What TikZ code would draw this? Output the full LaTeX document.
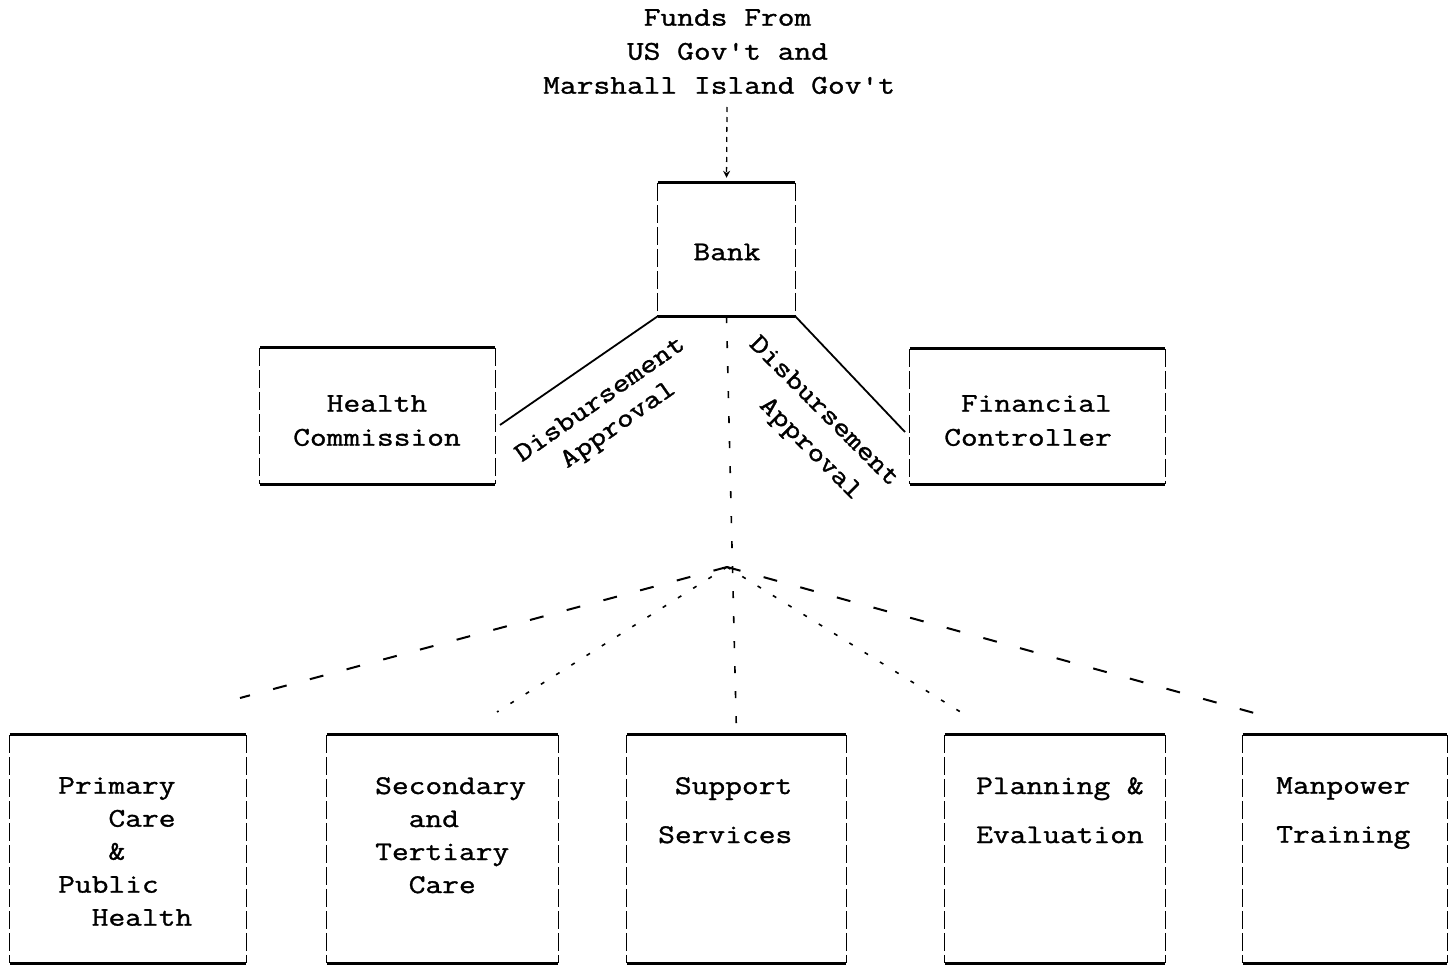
\documentclass[tikz,border=0pt]{standalone}
\usepackage{fontspec}
\newfontfamily\tw[FakeStretch=1.205,FakeBold=1.2]{Latin Modern Mono}
\usetikzlibrary{arrows.meta}
\begin{document}
\begin{tikzpicture}[x=1pt,y=-1pt,
  every node/.style={font=\tw\fontsize{27pt}{33pt}\selectfont, inner sep=0pt},
  txt/.style={anchor=north west, align=left},
  box/.style={inner sep=0pt},
  edge/.style={line width=2.8pt},
  side/.style={line width=1.2pt, dash pattern=on 18pt off 4pt},
  conn/.style={line width=1.8pt},
  vdash/.style={line width=1.6pt, dash pattern=on 7pt off 18pt},
  longdash/.style={line width=2pt, dash pattern=on 14pt off 24pt},
  dotline/.style={line width=1.6pt, dash pattern=on 4pt off 14pt},
  fundarrow/.style={line width=1.3pt, dash pattern=on 5pt off 5pt, -{Stealth[length=7pt,width=7pt]}}
]
\useasboundingbox (0,0) rectangle (1452,966);

% boxes
\node[box, minimum width=137pt, minimum height=133pt] (bank) at (726.5,249.5) {};
\node[box, minimum width=235pt, minimum height=136pt] (hc) at (377.5,416) {};
\node[box, minimum width=255pt, minimum height=135pt] (fc) at (1037.5,416.5) {};
\node[box, minimum width=236pt, minimum height=228pt] (prim) at (128,849) {};
\node[box, minimum width=231pt, minimum height=228pt] (sec) at (442.5,849) {};
\node[box, minimum width=219pt, minimum height=228pt] (supp) at (736.5,849) {};
\node[box, minimum width=220pt, minimum height=228pt] (plan) at (1055,849) {};
\node[box, minimum width=204pt, minimum height=228pt] (man) at (1345,849) {};

\foreach \b in {bank,hc,fc,prim,sec,supp,plan,man}{
  \draw[edge] (\b.north west) -- (\b.north east);
  \draw[edge] (\b.south west) -- (\b.south east);
  \draw[side] (\b.north west) -- (\b.south west);
  \draw[side] (\b.north east) -- (\b.south east);
}

% texts
\node[txt, align=left, font=\tw\fontsize{27pt}{34pt}\selectfont] (funds) at (543,9)
  {\phantom{xxxxxx}Funds From\\\phantom{xxxxx}US Gov't and\\Marshall Island Gov't};
\node (banktxt) at (727,252) {Bank};
\node[txt, font=\tw\fontsize{27pt}{34pt}\selectfont] (hctxt) at (293,395) {\phantom{xx}Health\\Commission};
\node[txt, font=\tw\fontsize{27pt}{34pt}\selectfont] (fctxt) at (944,395) {\phantom{x}Financial\\Controller};
\node[txt] (primtxt) at (58,777) {Primary\\\phantom{xxx}Care\\\phantom{xxx}\&\\Public\\\phantom{xx}Health};
\node[txt] (sectxt) at (375,777) {Secondary\\\phantom{xx}and\\Tertiary\\\phantom{xx}Care};
\node[txt, font=\tw\fontsize{27pt}{49pt}\selectfont] (supptxt) at (658,777) {\phantom{x}Support\\Services};
\node[txt, font=\tw\fontsize{27pt}{49pt}\selectfont] (plantxt) at (976,777) {Planning \&\\Evaluation};
\node[txt, font=\tw\fontsize{27pt}{49pt}\selectfont] (mantxt) at (1276,777) {Manpower\\Training};

% disbursement labels
\node[txt, rotate=35, font=\tw\fontsize{27pt}{31pt}\selectfont] (dl) at (512,449) {Disbursement\\\phantom{xx}Approval};
\node[txt, rotate=-45, font=\tw\fontsize{27pt}{36pt}\selectfont] (dr) at (760,333) {Disbursement\\\phantom{xxx}Approval};

% connectors
\coordinate (fstart) at (727,107);
\draw[fundarrow, shorten >=5pt] (fstart) -- (bank.north);
\coordinate (hcend) at (500,425);
\coordinate (fcend) at (905,432);
\draw[conn] (bank.south west) -- (hcend);
\draw[conn] (bank.south east) -- (fcend);
\draw[vdash] (bank.south) -- (supp.north);

\coordinate (fan) at (727,567);
\coordinate (f1) at (240,698);
\coordinate (f2) at (497,712);
\coordinate (f3) at (967,716);
\coordinate (f4) at (1265,716);
\draw[longdash] (fan) -- (f1);
\draw[dotline] (fan) -- (f2);
\draw[dotline] (fan) -- (f3);
\draw[longdash] (fan) -- (f4);
\end{tikzpicture}
\end{document}
